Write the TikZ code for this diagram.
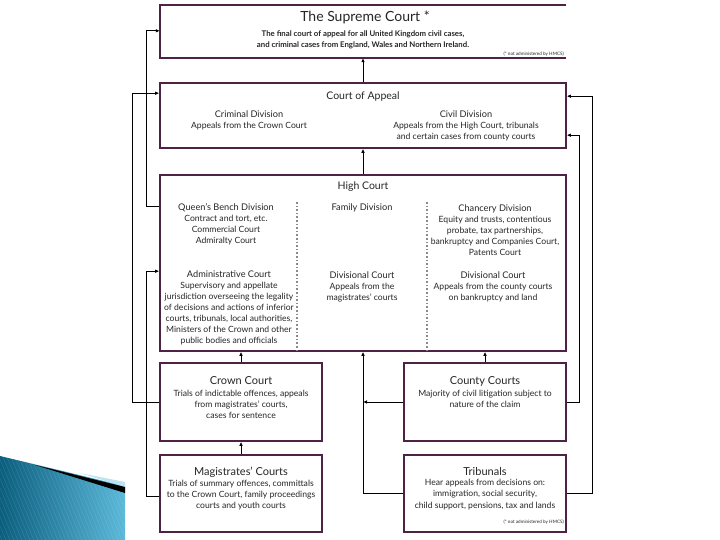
\documentclass[tikz,border=0pt]{standalone}
\usepackage{fontspec}
\setmainfont{Lato}
\usetikzlibrary{arrows.meta,calc}
\definecolor{boxc}{HTML}{4E2244}
\definecolor{divc}{HTML}{8A8A8A}
\definecolor{txtc}{HTML}{262626}
\definecolor{decoA}{HTML}{0B5E7E}
\definecolor{decoB}{HTML}{5BB9DA}
\newcommand{\hdrsize}{\fontsize{9.2}{11.1}\selectfont}
\begin{document}
\begin{tikzpicture}[x=1pt,y=-1pt,
  box/.style={draw=boxc,line width=1.6pt,inner sep=0pt,minimum width=#1},
  box/.default=406pt,
  nobox/.style={inner sep=0pt,minimum width=#1},
  txt/.style={font=\fontsize{8.6}{11.1}\selectfont,align=center,inner sep=0pt,text=txtc},
  hdr/.style={font=\hdrsize,inner sep=0pt,text=txtc},
  ttl/.style={font=\fontsize{10.5}{12}\selectfont,inner sep=0pt,text=txtc},
  ttlb/.style={font=\fontsize{11}{13}\selectfont,inner sep=0pt,text=txtc},
  big/.style={font=\fontsize{14}{16}\selectfont,inner sep=0pt,text=txtc},
  note/.style={font=\fontsize{4.6}{6}\selectfont,inner sep=0pt,anchor=east,text=txtc},
  conn/.style={draw=black,line width=0.9pt,-{Latex[length=4pt,width=3.6pt]}},
  divl/.style={draw=divc,line width=1.6pt,dotted}]
\useasboundingbox (0,0) rectangle (720,540);
\fill[white] (0,0) rectangle (720,540);

% decoration bottom left
\coordinate (d1) at (0,456);
\coordinate (d2) at (125,486);
\shade[left color=decoA,right color=decoB] (d1) -- (d2) -- (125,540) -- (0,540) -- cycle;
\begin{scope}
\clip (d1) -- (d2) -- (125,540) -- (0,540) -- cycle;
\foreach \i in {-100,-96,...,140}{\draw[white,opacity=0.12,line width=0.5pt] (\i,450) -- (\i+40,545);}
\end{scope}
\fill[decoB!40!white] (80,473) -- (125,482) -- (125,487) -- cycle;
\fill[black] (35,465) -- (125,487) -- (125,493) -- cycle;

% boxes
\node[nobox=406pt,minimum height=53pt] (sc) at (363,31.5) {};
\draw[boxc,line width=1.6pt] (sc.north east) -- (sc.north west) -- (sc.south west) -- (sc.south east);
\node[box,minimum height=65pt] (ca) at (363,115.5) {};
\node[box,minimum height=176pt] (hc) at (363,263) {};
\node[box=162pt,minimum height=78pt] (cc) at (241,402) {};
\node[box=162pt,minimum height=78pt] (co) at (485,402) {};
\node[box=162pt,minimum height=77pt] (mc) at (241,493.5) {};
\node[box=162pt,minimum height=77pt] (tr) at (485,493.5) {};

% dividers in High Court
\coordinate (dv1a) at (297,202);
\coordinate (dv2a) at (427,202);
\draw[divl] (dv1a) -- (dv1a |- hc.south);
\draw[divl] (dv2a) -- (dv2a |- hc.south);

% texts
\node[big] (sct) at (365,17) {The Supreme Court *};
\node[txt,font=\fontsize{7.8}{11.1}\selectfont\bfseries] (scb) at (363,39.5) {The final court of appeal for all United Kingdom civil cases,\\and criminal cases from England, Wales and Northern Ireland.};
\node[note] (scn) at (564,54) {(* not administered by HMCS)};

\node[ttl] (cat) at (363,97) {Court of Appeal};
\node[txt] (crd) at (249,120) {{\hdrsize Criminal Division}\\Appeals from the Crown Court};
\node[txt] (cvd) at (466,125.5) {{\hdrsize Civil Division}\\Appeals from the High Court, tribunals\\and certain cases from county courts};

\node[ttl] (hct) at (363,187) {High Court};
\node[txt] (qbd) at (226,224.5) {{\hdrsize Queen's Bench Division}\\Contract and tort, etc.\\Commercial Court\\Admiralty Court};
\node[txt] (adm) at (229,308) {{\hdrsize Administrative Court}\\Supervisory and appellate\\jurisdiction overseeing the legality\\of decisions and actions of inferior\\courts, tribunals, local authorities,\\Ministers of the Crown and other\\public bodies and officials};
\node[hdr] (fam) at (362,208) {Family Division};
\node[txt] (dvm) at (362,287) {{\hdrsize Divisional Court}\\Appeals from the\\magistrates' courts};
\node[txt] (chd) at (495,230) {{\hdrsize Chancery Division}\\Equity and trusts, contentious\\probate, tax partnerships,\\bankruptcy and Companies Court,\\Patents Court};
\node[txt] (dvc) at (493,287) {{\hdrsize Divisional Court}\\Appeals from the county courts\\on bankruptcy and land};

\node[ttlb] (cct) at (241,381) {Crown Court};
\node[txt] (ccb) at (241,404) {Trials of indictable offences, appeals\\from magistrates' courts,\\cases for sentence};
\node[ttlb] (cot) at (485,381) {County Courts};
\node[txt] (cob) at (485,398.5) {Majority of civil litigation subject to\\nature of the claim};
\node[ttlb] (mct) at (241,472) {Magistrates' Courts};
\node[txt] (mcb) at (241,495) {Trials of summary offences, committals\\to the Crown Court, family proceedings\\courts and youth courts};
\node[ttlb] (trt) at (485,471) {Tribunals};
\node[txt] (trb) at (485,494.5) {Hear appeals from decisions on:\\immigration, social security,\\child support, pensions, tax and lands};
\node[note] (trn) at (564,522) {(* not administered by HMCS)};

% connectors
\draw[conn] ($(hc.north west)+(0,32)$) -- ++(-13,0) |- ($(sc.north west)+(0,26)$);
\draw[conn] (cc.west) -- ++(-27,0) |- ($(ca.north west)+(0,11)$);
\draw[conn] ($(mc.west)+(0,3)$) -- ++(-13,0) |- ($(hc.north west)+(0,97)$);
\draw[conn] (ca.north) -- (sc.south);
\draw[conn] (hc.north) -- (ca.south);
\draw[conn] (cc.north) -- (cc.north |- hc.south);
\draw[conn] (mc.north) -- (cc.south);
\draw[conn] (co.north) -- (co.north |- hc.south);
\draw[conn] (tr.west) -| (hc.south);
\draw[conn] (co.west) -- (hc.south |- co.west);
\draw[conn] (co.east) -- ++(13,0) |- ($(ca.north east)+(0,53)$);
\draw[conn] (tr.east) -- ++(26,0) |- ($(ca.north east)+(0,14)$);
\end{tikzpicture}
\end{document}
